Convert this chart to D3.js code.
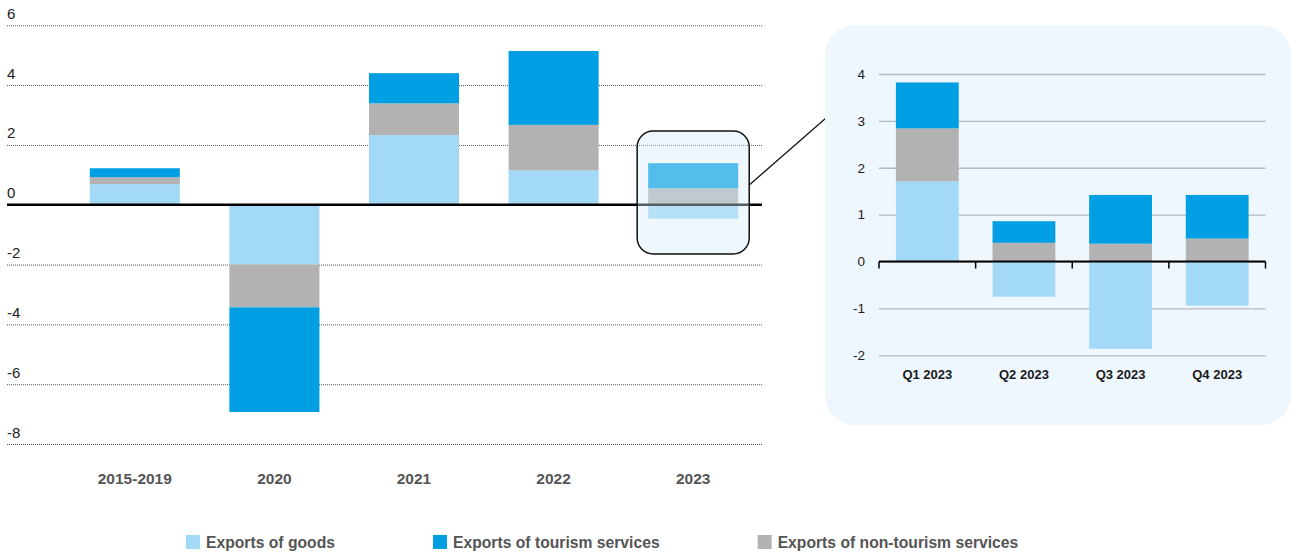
<!DOCTYPE html>
<html>
<head>
<meta charset="utf-8">
<script src="https://cdn.jsdelivr.net/npm/d3@7"></script>
<style>
  body { margin: 0; background: #fff; }
  svg { display: block; font-family: "Liberation Sans", Arial, sans-serif; }
</style>
</head>
<body>
<svg id="chart" width="1291" height="553"></svg>
<script>
// annual contributions (percentage points)
const periods = ["2015-2019", "2020", "2021", "2022", "2023"];
const goods = [0.69, -2.0, 2.33, 1.15, -0.47];
const nonTourism = [0.23, -1.43, 1.06, 1.52, 0.55];
const tourism = [0.30, -3.5, 1.01, 2.47, 0.84];
const mainTicks = [-8, -6, -4, -2, 0, 2, 4, 6];

// quarterly detail for 2023
const quarters = ["Q1 2023", "Q2 2023", "Q3 2023", "Q4 2023"];
const qGoods = [1.71, -0.75, -1.86, -0.94];
const qNonTourism = [1.13, 0.40, 0.38, 0.49];
const qTourism = [0.98, 0.46, 1.04, 0.93];
const insetTicks = [-2, -1, 0, 1, 2, 3, 4];

const seriesKeys = ["goods", "nonTourism", "tourism"];
const colors = { goods: "#a2d9f6", nonTourism: "#b2b2b2", tourism: "#009fe3" };
const legendItems = [
  { key: "goods", label: "Exports of goods" },
  { key: "tourism", label: "Exports of tourism services" },
  { key: "nonTourism", label: "Exports of non-tourism services" },
];

const svg = d3.select("#chart");
const hyphen = (d) => String(d); // plain hyphen-minus like the original

function rows(cats, g, n, t) {
  return cats.map((c, i) => ({ cat: c, goods: g[i], nonTourism: n[i], tourism: t[i] }));
}

const stack = d3.stack().keys(seriesKeys).offset(d3.stackOffsetDiverging);

// ---------- main chart ----------
const mainData = rows(periods, goods, nonTourism, tourism);
const x = d3.scaleBand().domain(periods).range([65, 763]).paddingInner(0.355).paddingOuter(0.1775);
const y = d3.scaleLinear().domain([-8, 6]).range([444, 25.3]);
const gridLeft = 7, gridRight = 762;

const yAxis = svg.append("g")
  .attr("transform", `translate(${gridLeft},0)`)
  .call(d3.axisLeft(y).tickValues(mainTicks).tickSize(-(gridRight - gridLeft)).tickFormat(hyphen));
yAxis.select(".domain").remove();
yAxis.selectAll(".tick line")
  .attr("stroke", "#555").attr("stroke-dasharray", "1,1").attr("stroke-width", 1);
yAxis.selectAll(".tick text")
  .attr("x", 0).attr("dy", -7).attr("text-anchor", "start")
  .attr("font-size", 15).attr("fill", "#222");
yAxis.selectAll(".tick").filter((d) => d === 0).select("line").remove();

svg.append("g")
  .selectAll("g")
  .data(stack(mainData))
  .join("g")
  .attr("fill", (s) => colors[s.key])
  .selectAll("rect")
  .data((s) => s)
  .join("rect")
  .attr("x", (d) => x(d.data.cat))
  .attr("width", x.bandwidth())
  .attr("y", (d) => y(Math.max(d[0], d[1])))
  .attr("height", (d) => Math.abs(y(d[0]) - y(d[1])));

svg.append("line")
  .attr("x1", gridLeft).attr("x2", gridRight)
  .attr("y1", y(0)).attr("y2", y(0))
  .attr("stroke", "#000").attr("stroke-width", 2.5);

svg.append("g")
  .selectAll("text")
  .data(periods)
  .join("text")
  .attr("x", (d) => x(d) + x.bandwidth() / 2)
  .attr("y", 484)
  .attr("text-anchor", "middle")
  .attr("font-size", 15.5).attr("font-weight", "bold").attr("fill", "#555")
  .text((d) => d);

// highlight box over 2023
const hx = x("2023") - 11;
svg.append("rect")
  .attr("x", hx).attr("y", 131).attr("width", x.bandwidth() + 22).attr("height", 123)
  .attr("rx", 16)
  .attr("fill", "rgba(212,234,248,0.4)")
  .attr("stroke", "#111").attr("stroke-width", 1.5);

svg.append("line")
  .attr("x1", hx + x.bandwidth() + 22).attr("y1", 185)
  .attr("x2", 826).attr("y2", 118)
  .attr("stroke", "#111").attr("stroke-width", 1.2);

// ---------- inset ----------
svg.append("rect")
  .attr("x", 825).attr("y", 25).attr("width", 466).attr("height", 400)
  .attr("rx", 30).attr("fill", "#eef6fe");

const insetData = rows(quarters, qGoods, qNonTourism, qTourism);
const ix = d3.scaleBand().domain(quarters).range([879, 1265.5]).paddingInner(0.35).paddingOuter(0.175);
const iy = d3.scaleLinear().domain([-2, 4]).range([355.3, 74]);

const iyAxis = svg.append("g")
  .attr("transform", "translate(879,0)")
  .call(d3.axisLeft(iy).tickValues(insetTicks).tickSize(-(1265.5 - 879)).tickPadding(14).tickFormat(hyphen));
iyAxis.select(".domain").remove();
iyAxis.selectAll(".tick line").attr("stroke", "#b4b8bc").attr("stroke-width", 1.3);
iyAxis.selectAll(".tick text").attr("font-size", 13.5).attr("fill", "#222");

svg.append("g")
  .selectAll("g")
  .data(stack(insetData))
  .join("g")
  .attr("fill", (s) => colors[s.key])
  .selectAll("rect")
  .data((s) => s)
  .join("rect")
  .attr("x", (d) => ix(d.data.cat))
  .attr("width", ix.bandwidth())
  .attr("y", (d) => iy(Math.max(d[0], d[1])))
  .attr("height", (d) => Math.abs(iy(d[0]) - iy(d[1])));

svg.append("line")
  .attr("x1", 879).attr("x2", 1265.5)
  .attr("y1", iy(0)).attr("y2", iy(0))
  .attr("stroke", "#000").attr("stroke-width", 2);

const boundaries = d3.range(quarters.length + 1).map((i) => 879 + i * ix.step());
svg.append("g")
  .selectAll("line")
  .data(boundaries)
  .join("line")
  .attr("x1", (d) => d).attr("x2", (d) => d)
  .attr("y1", iy(0)).attr("y2", iy(0) + 7)
  .attr("stroke", "#000").attr("stroke-width", 1.5);

svg.append("g")
  .selectAll("text")
  .data(quarters)
  .join("text")
  .attr("x", (d) => ix(d) + ix.bandwidth() / 2)
  .attr("y", 379)
  .attr("text-anchor", "middle")
  .attr("font-size", 13).attr("font-weight", "bold").attr("fill", "#1a1a1a")
  .text((d) => d);

// ---------- legend ----------
const legend = svg.append("g");
let lx = 186;
legendItems.forEach((item) => {
  const g = legend.append("g").attr("transform", `translate(${lx},0)`);
  g.append("rect").attr("x", 0).attr("y", 535).attr("width", 14).attr("height", 14)
    .attr("fill", colors[item.key]);
  const t = g.append("text").attr("x", 20).attr("y", 548)
    .attr("font-size", 15.7).attr("font-weight", "bold").attr("fill", "#555")
    .text(item.label);
  lx += 20 + t.node().getComputedTextLength() + 98;
});
</script>
</body>
</html>
